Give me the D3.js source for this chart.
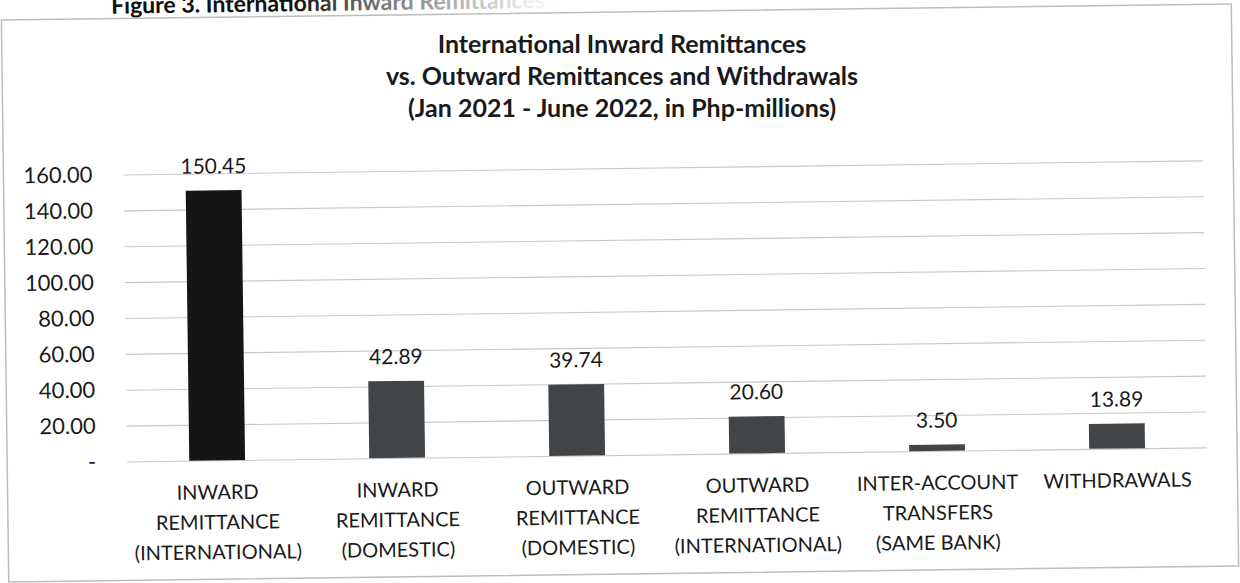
<!DOCTYPE html>
<html>
<head>
<meta charset="utf-8">
<script src="https://cdn.jsdelivr.net/npm/d3@7/dist/d3.min.js"></script>
<style>
  html, body { margin: 0; padding: 0; background: #fff; }
  svg { display: block; }
  text { font-family: Lato, "Open Sans", sans-serif; fill: #1a1a1a; }
</style>
</head>
<body>
<svg id="chart" width="1240" height="583"></svg>
<script>
// Remittance totals, Jan 2021 - June 2022 (Php millions)
const categories = [
  ["INWARD", "REMITTANCE", "(INTERNATIONAL)"],
  ["INWARD", "REMITTANCE", "(DOMESTIC)"],
  ["OUTWARD", "REMITTANCE", "(DOMESTIC)"],
  ["OUTWARD", "REMITTANCE", "(INTERNATIONAL)"],
  ["INTER-ACCOUNT", "TRANSFERS", "(SAME BANK)"],
  ["WITHDRAWALS"]
];
const values = [150.45, 42.89, 39.74, 20.60, 3.50, 13.89];
const yTicks = [0, 20, 40, 60, 80, 100, 120, 140, 160];
const yTickLabels = ["-", "20.00", "40.00", "60.00", "80.00", "100.00", "120.00", "140.00", "160.00"];
const titleLines = [
  "International Inward Remittances",
  "vs. Outward Remittances and Withdrawals",
  "(Jan 2021 - June 2022, in Php-millions)"
];
const figureCaption = "Figure 3. International Inward Remittances vs. Outward Remittances";

const svg = d3.select("#chart");
const defs = svg.append("defs");
const fade = defs.append("linearGradient")
  .attr("id", "captionFade").attr("gradientUnits", "userSpaceOnUse")
  .attr("x1", 300).attr("x2", 560).attr("y1", 0).attr("y2", 0);
fade.append("stop").attr("offset", 0).attr("stop-color", "#111");
fade.append("stop").attr("offset", 0.25).attr("stop-color", "#666");
fade.append("stop").attr("offset", 1).attr("stop-color", "#fff");

// the page sits slightly askew
const root = svg.append("g").attr("transform", "rotate(-0.75 620 292)");

// caption of the figure, running off the top edge
root.append("text")
  .attr("x", 115).attr("y", 7)
  .attr("font-size", 23).attr("font-weight", 700)
  .style("fill", "url(#captionFade)")
  .text(figureCaption);

// chart frame
root.append("rect")
  .attr("x", 5).attr("y", 12).attr("width", 1230).attr("height", 562)
  .attr("fill", "none").attr("stroke", "#bdbdbd").attr("stroke-width", 1.5);

const plot = { left: 125, right: 1205, top: 168, bottom: 455 };

const x = d3.scaleBand()
  .domain(d3.range(categories.length))
  .range([plot.left, plot.right])
  .paddingInner(0.69)
  .paddingOuter(0.345);

const y = d3.scaleLinear()
  .domain([0, 160])
  .range([plot.bottom, plot.top]);

// title (centred on the rotation axis, so it is drawn level)
svg.append("g").selectAll("text")
  .data(titleLines)
  .join("text")
  .attr("x", 622)
  .attr("y", (d, i) => 53 + i * 32)
  .attr("text-anchor", "middle")
  .attr("font-size", 25)
  .attr("font-weight", 700)
  .text(d => d);

// gridlines and value axis
const yAxis = d3.axisLeft(y)
  .tickValues(yTicks)
  .tickSize(-(plot.right - plot.left))
  .tickPadding(31)
  .tickFormat((d, i) => yTickLabels[i]);

const yg = root.append("g")
  .attr("transform", `translate(${plot.left},0)`)
  .call(yAxis);
yg.select(".domain").remove();
yg.selectAll(".tick line").attr("stroke", "#c8c8c8").attr("stroke-width", 1.1);
yg.selectAll(".tick text")
  .attr("font-size", 22)
  .attr("fill", "#1a1a1a")
  .style("font-family", "Lato, 'Open Sans', sans-serif");

// bars
root.append("g").selectAll("rect")
  .data(values)
  .join("rect")
  .attr("x", (d, i) => x(i))
  .attr("y", d => y(d))
  .attr("width", x.bandwidth())
  .attr("height", d => y(0) - y(d))
  .attr("fill", (d, i) => i === 0 ? "#151515" : "#424547");

// value labels
root.append("g").selectAll("text")
  .data(values)
  .join("text")
  .attr("x", (d, i) => x(i) + x.bandwidth() / 2)
  .attr("y", d => y(d) - 17)
  .attr("text-anchor", "middle")
  .attr("font-size", 21)
  .text(d => d.toFixed(2));

// category labels
const xAxis = d3.axisBottom(x).tickSize(0).tickFormat("");
const xg = root.append("g")
  .attr("transform", `translate(0,${plot.bottom})`)
  .call(xAxis);
xg.select(".domain").remove();
xg.selectAll(".tick").each(function (i) {
  const t = d3.select(this).append("text")
    .attr("text-anchor", "middle")
    .attr("font-size", 20)
    .attr("fill", "#1a1a1a")
    .style("font-family", "Lato, 'Open Sans', sans-serif");
  categories[i].forEach((line, k) => {
    t.append("tspan").attr("x", 0).attr("y", 39 + k * 30).text(line);
  });
});
</script>
</body>
</html>
